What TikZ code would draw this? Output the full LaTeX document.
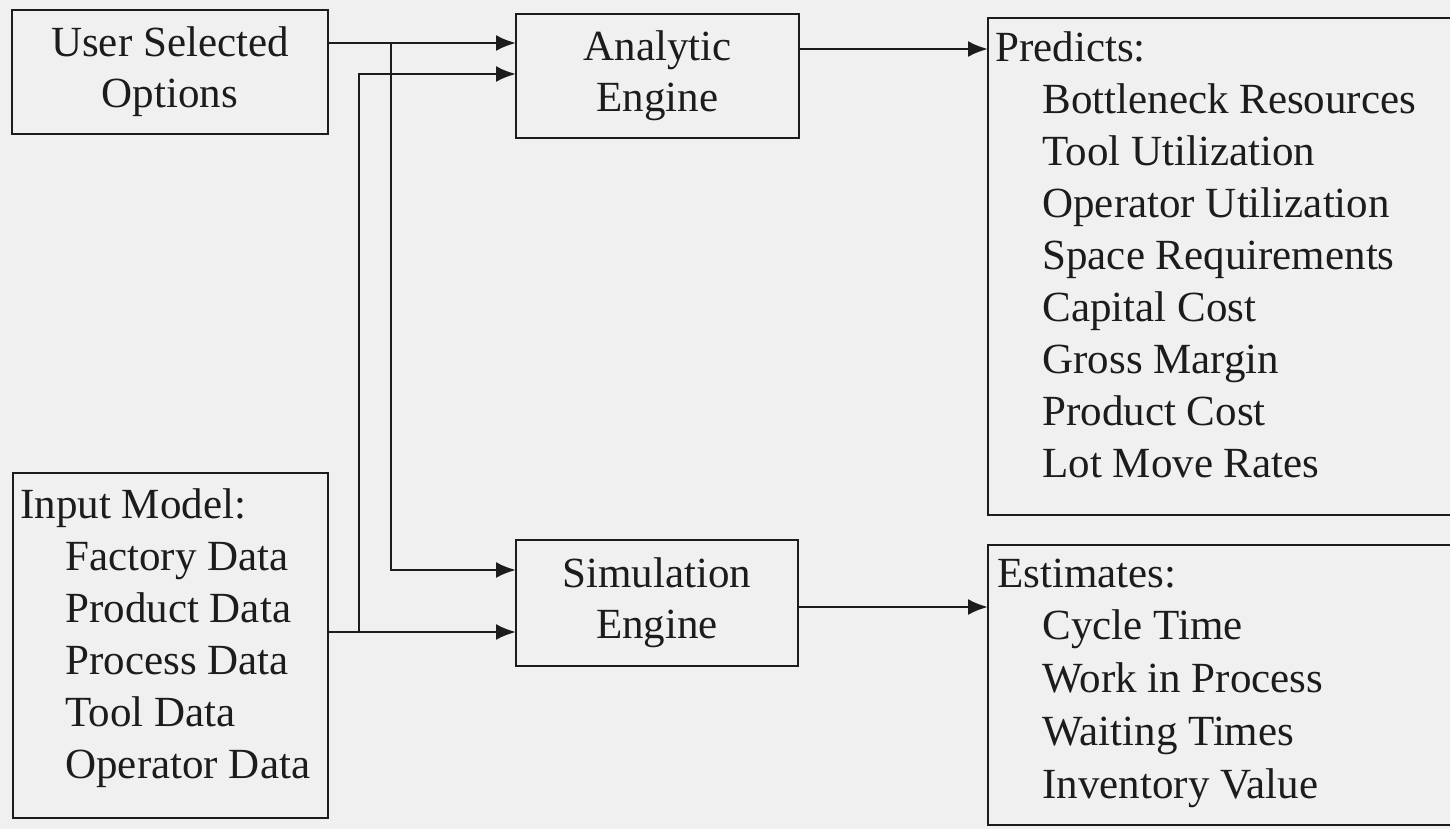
\documentclass[tikz,border=0pt]{standalone}
\usepackage{fontspec}
\setmainfont{Liberation Serif}
\usetikzlibrary{arrows.meta}
\definecolor{paper}{RGB}{240,240,240}
\definecolor{ink}{RGB}{28,28,28}
\begin{document}
\begin{tikzpicture}[x=0.5pt,y=-0.5pt,
  box/.style={draw=ink, line width=1.3pt, inner sep=0pt, outer sep=0pt},
  lbl/.style={font=\fontsize{21.5}{25.5}\selectfont, text=ink},
  item/.style={lbl, anchor=base west, inner sep=0pt},
  wire/.style={draw=ink, line width=1.3pt},
  flow/.style={wire, -{Latex[length=10pt,width=8pt]}}]

% sheet and frame
\fill[paper] (0,0) rectangle (1450,829);
\useasboundingbox (0,0) rectangle (1450,829);
\clip (0,0) rectangle (1450,829);

% engines and option box
\node[box, lbl, align=center, minimum width=158pt, minimum height=62pt] (user) at (170,72) {User Selected\\Options};
\node[box, lbl, align=center, minimum width=141.5pt, minimum height=62pt] (ana) at (657.5,76) {Analytic\\Engine};
\node[box, lbl, align=center, minimum width=141pt, minimum height=63pt] (sim) at (657,603) {Simulation\\Engine};

% list boxes (the two on the right run past the edge)
\node[box, minimum width=157.5pt, minimum height=172.5pt] (inp) at (170.5,645.5) {};
\node[box, minimum width=241pt, minimum height=248.5pt] (pred) at (1229,266.5) {};
\node[box, minimum width=241pt, minimum height=140pt] (est) at (1229,685) {};

% input model list
\node[item] (inh) at (20,518) {Input Model:};
\foreach \t [count=\i] in {Factory Data,Product Data,Process Data,Tool Data,Operator Data}
  \node[item] (in\i) at (65,{518+52*\i}) {\t};

% predictions list
\node[item] (prh) at (995,62) {Predicts:};
\foreach \t [count=\i] in {Bottleneck Resources,Tool Utilization,Operator Utilization,Space Requirements,Capital Cost,Gross Margin,Product Cost,Lot Move Rates}
  \node[item] (pr\i) at (1042,{62+51.9*\i}) {\t};

% estimates list
\node[item] (esh) at (997,587) {Estimates:};
\foreach \t [count=\i] in {Cycle Time,Work in Process,Waiting Times,Inventory Value}
  \node[item] (es\i) at (1042,{587+52.75*\i}) {\t};

% routing points
\coordinate (ua) at (391,43);
\coordinate (us) at (391,570);
\coordinate (ia) at (359,632);
\coordinate (ib) at (359,74);
\coordinate (ao) at (900,49);
\coordinate (so) at (900,607);

% connectors
\draw[flow] (user.east |- ua) -- (ana.west |- ua);
\draw[flow] (ua) -- (us) -- (sim.west |- us);
\draw[flow] (inp.east |- ia) -- (sim.west |- ia);
\draw[flow] (ia) -- (ib) -- (ana.west |- ib);
\draw[flow] (ana.east |- ao) -- (pred.west |- ao);
\draw[flow] (sim.east |- so) -- (est.west |- so);
\end{tikzpicture}
\end{document}
